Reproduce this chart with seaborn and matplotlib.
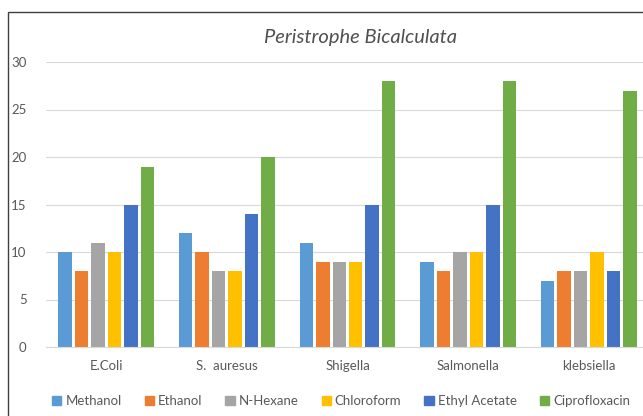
import matplotlib
matplotlib.use("Agg")
import matplotlib.pyplot as plt
import matplotlib.patches as mpatches
import seaborn as sns
import pandas as pd

organisms = ["E.Coli", "S.  auresus", "Shigella", "Salmonella", "klebsiella"]
solvents = ["Methanol", "Ethanol", "N-Hexane", "Chloroform", "Ethyl Acetate", "Ciprofloxacin"]
methanol = [10, 12, 11, 9, 7]
ethanol = [8, 10, 9, 8, 8]
n_hexane = [11, 8, 9, 10, 8]
chloroform = [10, 8, 9, 10, 10]
ethyl_acetate = [15, 14, 15, 15, 8]
ciprofloxacin = [19, 20, 28, 28, 27]
colors = ["#5B9BD5", "#ED7D31", "#A5A5A5", "#FFC000", "#4472C4", "#70AD47"]

series = [methanol, ethanol, n_hexane, chloroform, ethyl_acetate, ciprofloxacin]
rows = []
for solvent, vals in zip(solvents, series):
    for org, v in zip(organisms, vals):
        rows.append({"Organism": org, "Solvent": solvent, "Zone": v})
df = pd.DataFrame(rows)

sns.set_style("white")
plt.rcParams["font.family"] = ["Lato", "DejaVu Sans"]

W, H = 643, 416
fig = plt.figure(figsize=(W / 100, H / 100), dpi=100)
ax = fig.add_axes([46 / W, 69 / H, 603 / W, 285 / H])

sns.barplot(data=df, x="Organism", y="Zone", hue="Solvent", order=organisms,
            hue_order=solvents, palette=colors, width=0.82, gap=0.18,
            saturation=1, linewidth=0, ax=ax, legend=False)

ax.set_ylim(0, 30)
ax.set_xlim(-0.5, 4.5)
ax.set_yticks(range(0, 31, 5))
ax.yaxis.grid(True, color="#D9D9D9", lw=0.8)
ax.set_axisbelow(True)
for s in ["top", "right", "left"]:
    ax.spines[s].set_visible(False)
ax.spines["bottom"].set_color("#D9D9D9")
ax.tick_params(axis="both", length=0, colors="#595959", labelsize=9.5)
ax.tick_params(axis="x", pad=9)
ax.tick_params(axis="y", pad=14)
ax.set_xlabel("")
ax.set_ylabel("")

fig.text(360 / W, 1 - 37 / H, "Peristrophe Bicalculata", ha="center", va="center",
         fontsize=14.5, style="italic", color="#505050")

handles = [mpatches.Patch(color=c, label=s) for c, s in zip(colors, solvents)]
fig.legend(handles=handles, loc="center", bbox_to_anchor=(341 / W, 1 - 401 / H),
           ncol=6, frameon=False, fontsize=9.5, handlelength=0.7, handleheight=0.7,
           handletextpad=0.3, columnspacing=1.75, labelcolor="#595959")

# chart border (cropped on the right and bottom)
fig.add_artist(mpatches.Rectangle((8 / W, -0.1), 1.2, 1 - 12 / H + 0.1,
                                  transform=fig.transFigure, fill=False,
                                  edgecolor="#404040", lw=1))

fig.savefig("out.png", dpi=100)
